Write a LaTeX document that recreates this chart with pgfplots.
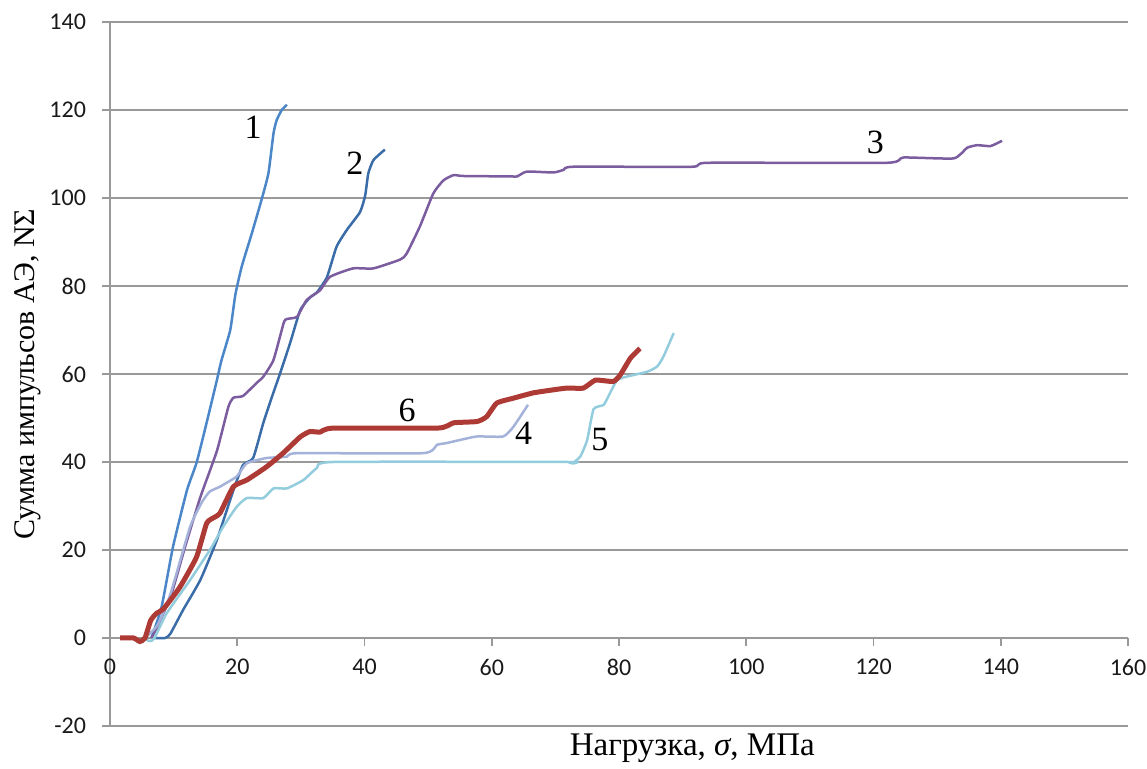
\documentclass[border=0pt]{standalone}
\usepackage{fontspec}
\setmainfont{Liberation Serif}
\newfontfamily\calibri{Carlito}
\usepackage{pgfplots}
\pgfplotsset{compat=1.18}
\definecolor{cA}{HTML}{4A86C8}
\definecolor{cB}{HTML}{3A6CA8}
\definecolor{cC}{HTML}{7B5C9E}
\definecolor{cD}{HTML}{A4B2DA}
\definecolor{cE}{HTML}{93CDDD}
\definecolor{cF}{HTML}{AE3A36}
\begin{document}
\begin{tikzpicture}
\begin{axis}[
  scale only axis, width=509pt, height=352pt,
  at={(0,0)}, anchor=south west,
  xmin=0, xmax=160, ymin=-20, ymax=140,
  axis x line*=middle, axis y line*=left,
  hide obscured x ticks=false, hide obscured y ticks=false,
  axis line style={black!40, line width=0.8pt},
  xtick={0,20,...,160}, ytick={-20,0,...,140},
  ymajorgrids, grid style={black!40, line width=0.8pt},
  tick style={black!40, line width=0.8pt},
  tick align=outside, major tick length=4pt,
  ticklabel style={font=\calibri\fontsize{12}{13}\selectfont, text=black!90},
  yticklabel style={xshift=-4.5pt},
  xticklabel style={yshift=-3pt},
  /pgf/number format/assume math mode=true,
  xlabel={Нагрузка, \textit{σ}, МПа},
  ylabel={Сумма импульсов АЭ, NΣ},
  every axis x label/.style={at={(rel axis cs:0.572,0)}, anchor=center, yshift=-11pt, font=\fontsize{16.5}{19}\selectfont},
  every axis y label/.style={at={(rel axis cs:0,0.5)}, xshift=-41pt, rotate=90, anchor=center, font=\fontsize{15}{18}\selectfont},
  clip=false,
  every axis plot/.append style={smooth, tension=0.3, line width=1.25pt, no markers},
]
\addplot[cA] coordinates {(6.5,0)(8.1,7)(9.9,20.7)(12.1,33.6)(13.6,39.8)(15.2,49)(16.8,58.6)(17.5,63)(18.9,70)(19.7,78)(20.7,84.4)(22.3,92)(23.8,99.5)(24.9,105.6)(25.7,114.7)(26.2,117.7)(27,120)(27.8,121.2)};
\addplot[cB] coordinates {(7,0)(8.7,0)(9.5,1)(11.5,6.4)(14.2,13.2)(16.8,22.3)(19.4,33.6)(20.9,39.3)(22.5,40.9)(24.1,48.9)(25.5,55)(26.7,60)(28.3,67)(29.9,74.5)(31.5,77.5)(32.5,78.5)(34.1,82)(35.6,88.9)(37.2,92.7)(39.3,96.8)(40.1,100.5)(40.6,105.6)(41.4,108.6)(43.2,111)};
\addplot[cC] coordinates {(6.5,0)(7.6,3)(9.7,10.2)(11.8,20.7)(14.2,32)(16.8,42.5)(18.6,52.5)(19.4,54.6)(20.9,55)(23,57.9)(24.1,59.4)(25.7,63.2)(27.3,71.6)(27.8,72.5)(29.4,73)(30.9,76.8)(33,79)(34.6,82.1)(38.2,84)(41.4,84)(45.6,86)(46.6,87.3)(48.7,93.5)(50.8,101)(52.4,104)(54,105.2)(55.5,105)(62.9,104.9)(64,104.9)(65.5,106)(69.7,105.8)(71.3,106.4)(72.8,107.1)(91.5,107.1)(94,108)(122.1,108)(124.7,109.2)(132.6,109)(134.7,111.4)(136.3,112)(138.4,111.8)(140.2,113)};
\addplot[cD] coordinates {(5.5,0)(7.5,3)(9.5,10)(12.6,25.3)(14.5,31)(15.7,33.3)(17.3,34.4)(19.9,36.7)(21.5,39.7)(24.6,40.9)(27.8,41.2)(29.4,42)(49.2,42)(51.4,43.9)(52.9,44.3)(55,45)(57.7,45.8)(61.8,45.8)(63.4,48)(65.7,53)};
\addplot[cE] coordinates {(5,0)(6.3,-0.7)(7,0)(8.9,5.6)(12.6,13.2)(15.7,20)(17.8,25.3)(19.9,29.8)(21.5,31.8)(24.1,31.8)(25.7,34)(27.8,34)(30.4,35.9)(32.5,38.6)(35.1,40)(71.8,40)(72.6,39.7)(73.9,41.2)(75,45)(76,52)(77.6,53)(78.6,55.7)(79.7,58.6)(81.2,59.4)(84.4,60.5)(86,61.7)(87,64)(88.6,69.3)};
\addplot[cF, line width=2.5pt] coordinates {(1.6,0)(3.7,0)(4.7,-0.8)(5.5,0)(6.4,4)(7.3,5.6)(8.4,6.6)(11,11.6)(13.6,18.4)(15.2,26.1)(16.5,27.5)(17.3,28.4)(19.4,34.4)(21.5,35.9)(24.6,38.9)(27.2,42)(29.9,45.7)(31.4,46.9)(33,46.8)(35.1,47.7)(51.5,47.7)(54,48.9)(57.7,49.2)(59.2,50.3)(60.8,53.4)(63.4,54.5)(66.5,55.7)(69.2,56.3)(71.8,56.8)(74.4,56.8)(76.3,58.6)(79.1,58.3)(80.2,59.8)(81.8,63.6)(83.3,65.8)};
\node[font=\fontsize{17}{20}\selectfont] at (axis cs:22.5,116) {1};
\node[font=\fontsize{17}{20}\selectfont] at (axis cs:38.5,108) {2};
\node[font=\fontsize{17}{20}\selectfont] at (axis cs:120.3,112.7) {3};
\node[font=\fontsize{17}{20}\selectfont] at (axis cs:65,46.6) {4};
\node[font=\fontsize{17}{20}\selectfont] at (axis cs:77,45) {5};
\node[font=\fontsize{17}{20}\selectfont] at (axis cs:46.7,51.8) {6};
\end{axis}
\pgfresetboundingbox
\path[use as bounding box] (-55pt,-21.5pt) rectangle (518.5pt,363pt);
\end{tikzpicture}
\end{document}
